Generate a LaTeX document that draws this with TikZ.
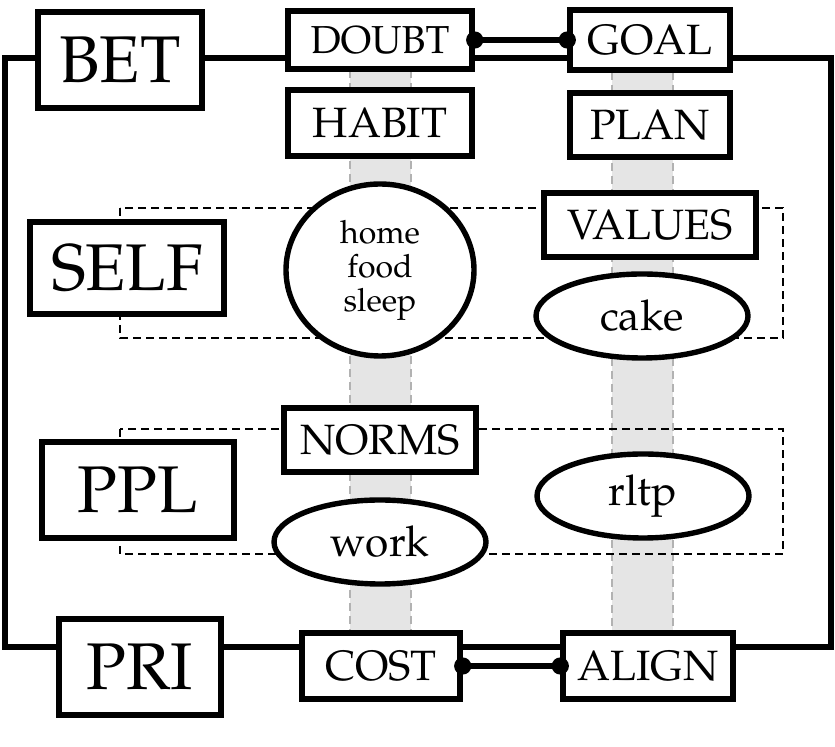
\documentclass[tikz,border=0pt]{standalone}
\usepackage[T1]{fontenc}
\usepackage{mathpazo}
\usetikzlibrary{shapes.geometric}
\tikzset{
  every picture/.style={line width=2.7pt},
  box/.style={draw, fill=white, inner sep=0pt, font=\fontsize{21.2}{24}\selectfont},
  bigbox/.style={box, font=\fontsize{33}{36}\selectfont},
  blob/.style={ellipse, draw, fill=white, inner sep=0pt, minimum width=106pt, minimum height=42pt, font=\fontsize{21.2}{24}\selectfont},
  link/.style={line width=2.7pt},
  group/.style={line width=1.4pt, dash pattern=on 4pt off 2.5pt},
  barfill/.style={fill=gray!20},
  bardash/.style={draw=gray!60, line width=1.1pt, dash pattern=on 4pt off 2.5pt},
}

\begin{document}
\begin{tikzpicture}[x=0.5pt, y=-0.5pt]
  \useasboundingbox (0,0) rectangle (835,747);
  % grey columns
  \foreach \bx/\ytop in {350/70, 612/72} {
    \fill[barfill] (\bx,\ytop) rectangle (\bx+61,633);
    \draw[bardash] (\bx,\ytop) -- (\bx,633) (\bx+61,\ytop) -- (\bx+61,633);
  }
  % groups
  \draw[group] (120,208) rectangle (783,338);
  \draw[group] (120,429) rectangle (783,554);
  % outer frame
  \coordinate (tl) at (5,58);
  \coordinate (br) at (831,647);
  \draw (tl) rectangle (br);
  % nodes
  \node[bigbox, minimum width=82pt, minimum height=48pt] (bet) at (120,60) {BET};
  \node[bigbox, minimum width=97pt, minimum height=46pt] (self) at (127,268) {SELF};
  \node[bigbox, minimum width=96pt, minimum height=48pt] (ppl) at (138,490) {PPL};
  \node[bigbox, minimum width=81pt, minimum height=48pt] (pri) at (140,667) {PRI};
  \node[box, minimum width=92pt, minimum height=29pt, font=\fontsize{19.5}{22}\selectfont] (doubt) at (380,40) {DOUBT};
  \node[box, minimum width=80pt, minimum height=30pt] (goal) at (650,40) {GOAL};
  \node[box, minimum width=92pt, minimum height=33pt] (habit) at (380,123) {HABIT};
  \node[box, minimum width=80pt, minimum height=32pt] (plan) at (650,125) {PLAN};
  \node[box, minimum width=106pt, minimum height=32pt] (values) at (650,225) {VALUES};
  \node[box, minimum width=96pt, minimum height=32pt] (norms) at (380,440) {NORMS};
  \node[box, minimum width=79pt, minimum height=33pt] (cost) at (381,666) {COST};
  \node[box, minimum width=85pt, minimum height=33pt] (align) at (648,666) {ALIGN};
  \node[blob, minimum width=94pt, minimum height=86pt, align=center, font=\fontsize{16}{17}\selectfont] (habits) at (380,270) {home\\food\\sleep};
  \node[blob] (cake) at (642,316) {cake};
  \node[blob] (rltp) at (643,496) {rltp};
  \node[blob] (work) at (380,542) {work};
  % links
  \draw[link] (doubt.east) -- (goal.west);
  \draw[link] (cost.east) -- (align.west);
  \fill (doubt.east) circle (4.3pt) (goal.west) circle (4.3pt)
        (cost.east) circle (4.3pt) (align.west) circle (4.3pt);
\end{tikzpicture}
\end{document}
